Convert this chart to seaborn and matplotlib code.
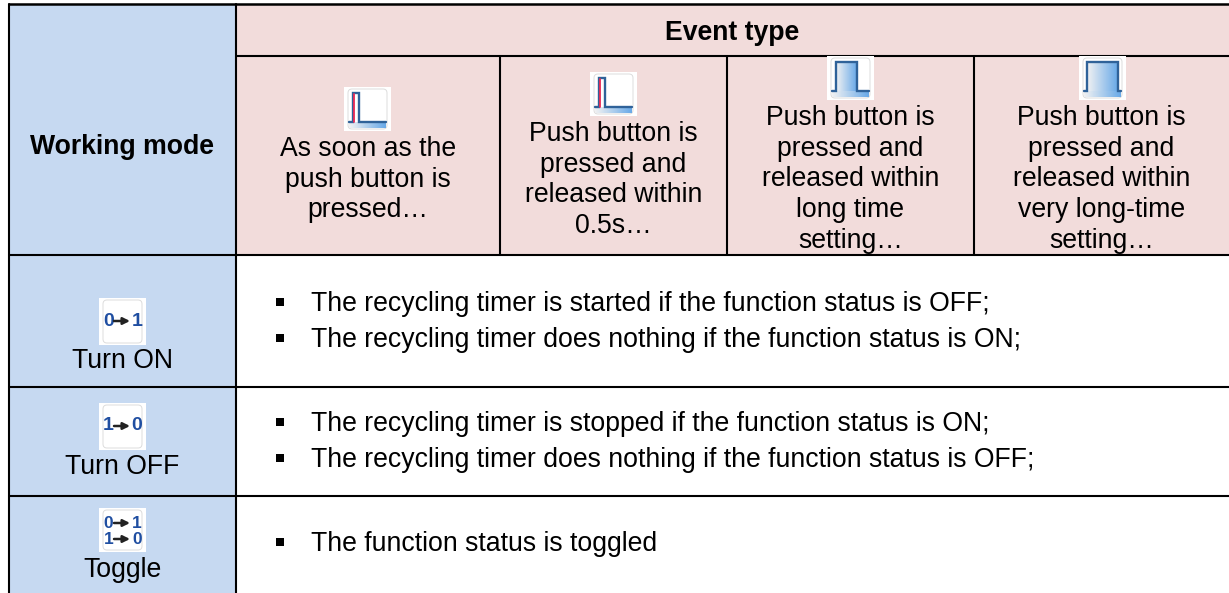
import numpy as np
import matplotlib
matplotlib.use('Agg')
import matplotlib.pyplot as plt
from matplotlib.patches import Rectangle, FancyBboxPatch
import seaborn as sns

# Table text
corner_label = 'Working mode'
group_label = 'Event type'
event_labels = [['As soon as the', 'push button is', 'pressed…'],
                ['Push button is', 'pressed and', 'released within', '0.5s…'],
                ['Push button is', 'pressed and', 'released within', 'long time', 'setting…'],
                ['Push button is', 'pressed and', 'released within', 'very long-time', 'setting…']]
mode_labels = ['Turn ON', 'Turn OFF', 'Toggle']
mode_bullets = [['The recycling timer is started if the function status is OFF;',
                 'The recycling timer does nothing if the function status is ON;'],
                ['The recycling timer is stopped if the function status is ON;',
                 'The recycling timer does nothing if the function status is OFF;'],
                ['The function status is toggled']]

# Layout in pixels, text positions are baselines
col_edges = [9, 236, 500, 727, 974, 1229]
row_edges = [4, 56, 255, 387, 496, 593]
event_first_line = [156, 141, 125, 125]
event_icon_x = [344, 590, 827, 1079]
event_icon_y = [87, 72, 56, 56]
event_icon_kind = ['rise', 'rise', 'pulse_narrow', 'pulse_wide']
mode_icon_y = [298, 403, 508]
mode_icon_kind = ['on', 'off', 'toggle']
mode_text_y = [368, 474, 577]
bullet_y = [[311, 347], [431, 467], [551]]

BLUE = '#c6d9f1'
PINK = '#f2dcdb'
LINE_GAP = 30.7

sns.set_theme(style='white')
plt.rcParams['font.family'] = ['Liberation Sans', 'DejaVu Sans']
plt.rcParams['text.color'] = 'black'
FS = 19.2


def draw_wave(ax, x, y, kind):
    fill = sns.light_palette('#6aaae8', as_cmap=True)
    top, base, bot = y + 6, y + 35, y + 41
    ramp = np.linspace(0, 1, 32).reshape(1, -1)
    if kind == 'rise':
        xs = [x + 5, x + 9, x + 9, x + 15, x + 15, x + 42]
        ax.imshow(ramp, extent=(x + 5, x + 42, bot, base), cmap=fill, vmin=0, vmax=1,
                  aspect='auto', zorder=4)
        ax.plot(xs, [base, base, top, top, base, base], color='#2f6299', lw=1.7, zorder=5,
                solid_joinstyle='miter')
        ax.plot([x + 10.2, x + 10.2], [top + 1, base], color='#ee2a55', lw=1.3, zorder=6)
    else:
        x0, x1 = (x + 9, x + 30) if kind == 'pulse_narrow' else (x + 8, x + 39)
        ax.imshow(ramp, extent=(x0, x1, bot, top), cmap=fill, vmin=0, vmax=1, aspect='auto', zorder=4)
        ax.imshow(ramp, extent=(x + 5, x + 42, bot, base), cmap=fill, vmin=0, vmax=1,
                  aspect='auto', zorder=4)
        ax.plot([x + 5, x0, x0, x1, x1, x + 42], [base, base, top, top, base, base],
                color='#2f6299', lw=1.7, zorder=5, solid_joinstyle='miter')


def draw_digits(ax, x, y, kind):
    rows = {'on': [('0', '1')], 'off': [('1', '0')], 'toggle': [('0', '1'), ('1', '0')]}[kind]
    fs = 14 if kind != 'toggle' else 12.5
    for i, (a, c) in enumerate(rows):
        yy = y + 23 if len(rows) == 1 else y + 15 + i * 16
        ax.text(x + 9.5, yy, a, color='#1f4ea1', fontsize=fs, fontweight='bold', ha='center', va='center', zorder=5)
        ax.text(x + 38, yy, c, color='#1f4ea1', fontsize=fs, fontweight='bold', ha='center', va='center', zorder=5)
        ax.annotate('', xy=(x + 31, yy), xytext=(x + 15, yy), zorder=5,
                    arrowprops=dict(arrowstyle='-|>', color='#222222', lw=1.8, mutation_scale=10,
                                    shrinkA=0, shrinkB=0))


def draw_icon(ax, x, y, kind):
    h = 47 if kind in ('on', 'off') else 44
    ax.add_patch(Rectangle((x, y), 47, h, fc='white', ec='none', zorder=3))
    ax.add_patch(FancyBboxPatch((x + 4, y + 2), 39, h - 4, boxstyle='round,pad=0,rounding_size=4',
                                fc='white', ec='#dcdcdc', lw=0.7, zorder=4))
    if kind in ('on', 'off', 'toggle'):
        draw_digits(ax, x, y, kind)
    else:
        draw_wave(ax, x, y, kind)


def draw_table(ax):
    left, split, right = col_edges[0], col_edges[1], col_edges[-1]
    top, head, bottom = row_edges[0], row_edges[2], row_edges[-1]

    ax.add_patch(Rectangle((left, top), split - left, bottom - top, fc=BLUE, ec='none'))
    ax.add_patch(Rectangle((split, top), right - split, head - top, fc=PINK, ec='none'))

    # grid lines
    lw = 1.5
    ax.plot([left, right], [top, top], color='black', lw=lw + 0.3)
    ax.plot([split, right], [row_edges[1], row_edges[1]], color='black', lw=lw)
    for y in row_edges[2:5]:
        ax.plot([left, right], [y, y], color='black', lw=lw)
    for x in (left, split):
        ax.plot([x, x], [top, bottom], color='black', lw=lw)
    for x in col_edges[2:5]:
        ax.plot([x, x], [row_edges[1], head], color='black', lw=lw)

    # header text
    ax.text((left + split) / 2, 154, corner_label, fontsize=FS, fontweight='bold', ha='center', va='baseline')
    ax.text((split + right) / 2, 40, group_label, fontsize=FS, fontweight='bold', ha='center', va='baseline')
    for i, lines in enumerate(event_labels):
        cx = (col_edges[i + 1] + col_edges[i + 2]) / 2
        for j, line in enumerate(lines):
            ax.text(cx, event_first_line[i] + j * LINE_GAP, line, fontsize=FS, ha='center', va='baseline')

    for x, y, kind in zip(event_icon_x, event_icon_y, event_icon_kind):
        draw_icon(ax, x, y, kind)

    # mode rows
    for i, name in enumerate(mode_labels):
        ax.text(122, mode_text_y[i], name, fontsize=FS, ha='center', va='baseline')
        draw_icon(ax, 99, mode_icon_y[i], mode_icon_kind[i])
        for y, line in zip(bullet_y[i], mode_bullets[i]):
            ax.scatter([280], [y - 9], marker='s', s=30, color='black', linewidths=0)
            ax.text(311, y, line, fontsize=FS, ha='left', va='baseline')


fig = plt.figure(figsize=(12.29, 5.93), dpi=100, facecolor='white')
ax = fig.add_axes([0, 0, 1, 1])
draw_table(ax)
ax.set_xlim(0, 1229)
ax.set_ylim(593, 0)
ax.axis('off')
fig.savefig('out.png', dpi=100)
